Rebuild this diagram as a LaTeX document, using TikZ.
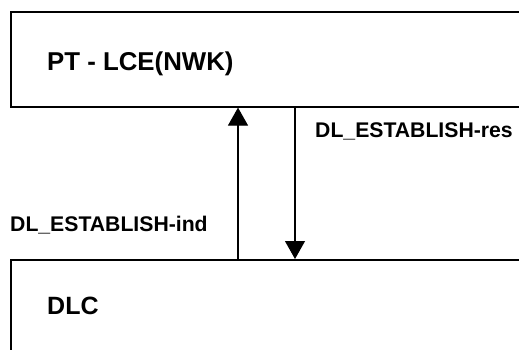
\documentclass[tikz,border=0pt]{standalone}
\usepackage{fontspec}
\setmainfont{Liberation Sans}
\usetikzlibrary{arrows.meta}
\begin{document}
\begin{tikzpicture}[x=1pt,y=1pt,
  layerbox/.style={draw=black,line width=1.6pt,rectangle,inner sep=0pt},
  titletext/.style={anchor=west,inner sep=0pt,font=\bfseries\fontsize{25.8}{27}\selectfont},
  dlctext/.style={anchor=west,inner sep=0pt,font=\bfseries\fontsize{25}{27}\selectfont},
  labeltext/.style={anchor=west,inner sep=0pt,font=\bfseries\fontsize{21.2}{23}\selectfont},
  msg/.style={line width=1.1pt,-{Triangle[width=20pt,length=18pt]}}]
\useasboundingbox (0,0) rectangle (519,349);
\fill[white] (0,0) rectangle (519,349);
% boxes (extend past right / bottom edges as in reference)
\node[layerbox,minimum width=512pt,minimum height=95pt,anchor=north west] (top) at (10,338) {};
\node[layerbox,minimum width=512pt,minimum height=93pt,anchor=north west] (bot) at (10,90) {};
\node[titletext] (toptext) at (47,285) {PT - LCE(NWK)};
\node[dlctext] (bottext) at (47,43) {DLC};
% arrow positions
\coordinate (upx) at (238,0);
\coordinate (downx) at (295,0);
\draw[msg] (bot.north -| upx) -- (top.south -| upx);
\draw[msg] (top.south -| downx) -- (bot.north -| downx);
\node[labeltext] (reslabel) at (315,218) {DL\_ESTABLISH-res};
\node[labeltext] (indlabel) at (10,124) {DL\_ESTABLISH-ind};
\end{tikzpicture}
\end{document}
